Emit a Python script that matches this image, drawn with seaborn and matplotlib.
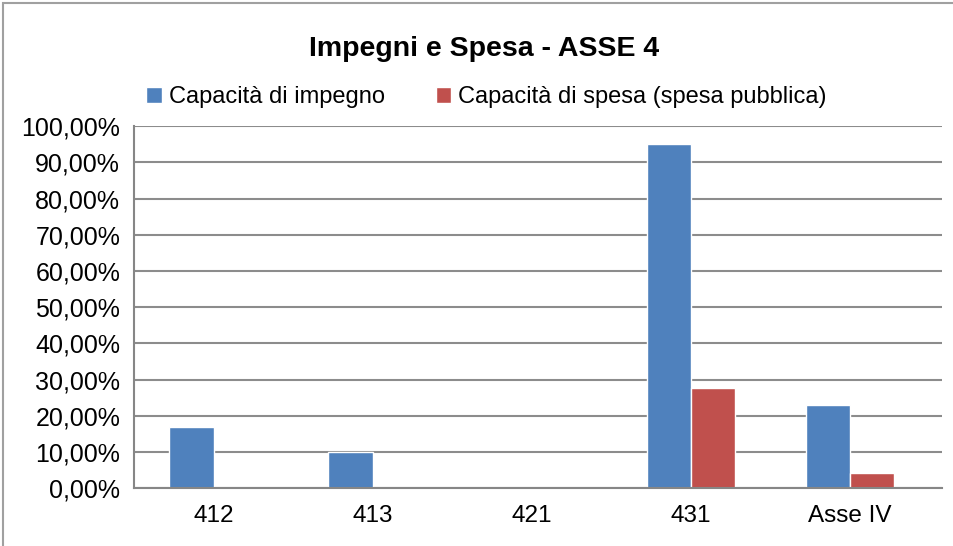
import pandas as pd
import numpy as np
import matplotlib.pyplot as plt
import seaborn as sns
from matplotlib.patches import Rectangle, Patch
from matplotlib.ticker import FuncFormatter

categories = ['412', '413', '421', '431', 'Asse IV']
impegno = [16.8, 9.9, 0.0, 95.0, 22.9]
spesa = [0.0, 0.0, 0.0, 27.6, 4.1]
series_names = ['Capacità di impegno', 'Capacità di spesa (spesa pubblica)']
colors = ['#4F81BD', '#C0504D']

df = pd.DataFrame({
    'cat': categories * 2,
    'val': impegno + spesa,
    'serie': [series_names[0]] * len(categories) + [series_names[1]] * len(categories),
})

sns.set_style('white')
plt.rcParams['font.family'] = ['Liberation Sans Narrow', 'Liberation Sans', 'DejaVu Sans']
plt.rcParams['text.color'] = 'black'
plt.rcParams['xtick.color'] = 'black'
plt.rcParams['ytick.color'] = 'black'

fig = plt.figure(figsize=(9.54, 5.46), dpi=100)
ax = fig.add_axes([0.1405, 0.106, 0.847, 0.663])

sns.barplot(data=df, x='cat', y='val', hue='serie', palette=colors, width=0.555,
            ax=ax, legend=False, saturation=1, errorbar=None)

ax.set_ylim(0, 100)
ax.set_xlim(-0.5, 4.58)
ax.set_yticks(np.arange(0, 101, 10))
ax.yaxis.set_major_formatter(FuncFormatter(lambda v, p: f'{v:.2f}'.replace('.', ',') + '%'))
ax.grid(axis='y', color='#8c8c8c', linewidth=1.5)
ax.set_axisbelow(True)
for s in ['top', 'right']:
    ax.spines[s].set_visible(False)
for s in ['left', 'bottom']:
    ax.spines[s].set_color('#868686')
    ax.spines[s].set_linewidth(1.5)
ax.tick_params(axis='y', labelsize=18, length=4, color='#868686', labelcolor='black', width=1.5, pad=6)
ax.tick_params(axis='x', labelsize=17.5, length=0, labelcolor='black', pad=12)
ax.set_xlabel('')
ax.set_ylabel('')

fig.text(0.507, 0.91, 'Impegni e Spesa - ASSE 4', ha='center', va='center',
         fontsize=20.5, fontweight='bold', color='black')

handles = [Patch(facecolor=c) for c in colors]
fig.legend(handles, series_names, loc='center', bbox_to_anchor=(0.51, 0.822), ncol=2,
           frameon=False, fontsize=17, handlelength=0.65, handleheight=0.65,
           handletextpad=0.3, columnspacing=2.15, labelcolor='black')

fig.patches.append(Rectangle((0.003, -0.01), 1.1, 1.004, transform=fig.transFigure,
                             fill=False, edgecolor='#a0a0a0', linewidth=1.5))

fig.savefig('out.png', dpi=100)
